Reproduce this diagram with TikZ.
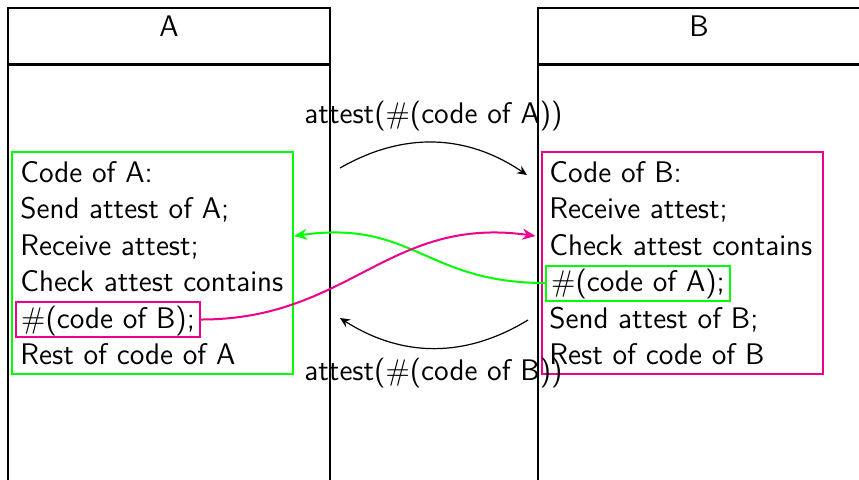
\documentclass[tikz,border=0pt]{standalone}
\usepackage{fontspec}
\usetikzlibrary{arrows.meta}
\definecolor{codegreen}{RGB}{0,255,0}
\definecolor{codepink}{RGB}{236,0,140}
\newcommand{\codefont}{\sffamily\fontsize{14.9}{18.3}\selectfont}
\begin{document}
\begin{tikzpicture}[x=0.5pt,y=-0.5pt,
  colbox/.style={draw=black, line width=1pt, inner sep=0pt, minimum width=161pt},
  lbl/.style={font=\codefont, inner sep=0pt},
  txt/.style={font=\codefont, inner sep=0pt, anchor=base west},
  hashbox/.style={txt, line width=1pt, inner xsep=2.6pt, inner ysep=0pt,
                  text height=13pt, text depth=4.5pt},
  codebox/.style={line width=1pt, inner sep=0pt, minimum width=140.5pt, minimum height=111pt},
  msg/.style={line width=0.6pt, -{Stealth[length=5pt,width=4.5pt,inset=1.8pt]}},
  link/.style={line width=1pt, -{Stealth[length=6.5pt,width=5.5pt]}}]
\useasboundingbox (0,0) rectangle (859,479);
\clip (0,0) rectangle (859,479);

% the two columns with their headers
\node[colbox, minimum height=28pt] (hA) at (169,36) {};
\node[colbox, minimum height=218pt] (bA) at (169,282) {};
\node[colbox, minimum height=28pt] (hB) at (699,36) {};
\node[colbox, minimum height=218pt] (bB) at (699,282) {};
\draw[line width=1.2pt] (hA.south west) -- (hA.south east);
\draw[line width=1.2pt] (hB.south west) -- (hB.south east);
\node[lbl, anchor=base] (tA) at (169,36) {A};
\node[lbl, anchor=base] (tB) at (699,36) {B};

% code of A
\node[codebox, draw=codegreen] (boxA) at (152.5,263) {};
\node[txt] (a1) at (20,182) {Code of A:};
\node[txt] (a2) at (20,218.5) {Send attest of A;};
\node[txt] (a3) at (20,255) {Receive attest;};
\node[txt] (a4) at (20,291.5) {Check attest contains};
\node[hashbox, draw=codepink] (hashB) at (15,328) {$\#$(code of B);};
\node[txt] (a6) at (20,364) {Rest of code of A};

% code of B
\node[codebox, draw=codepink] (boxB) at (682,263) {};
\node[txt] (b1) at (549,182) {Code of B:};
\node[txt] (b2) at (549,218.5) {Receive attest;};
\node[txt] (b3) at (549,255) {Check attest contains};
\node[hashbox, draw=codegreen] (hashA) at (545,291.5) {$\#$(code of A);};
\node[txt] (b5) at (549,328) {Send attest of B;};
\node[txt] (b6) at (549,364) {Rest of code of B};

% messages exchanged between the columns
\coordinate (m1s) at (340,168);
\coordinate (m1e) at (527,175);
\coordinate (m2s) at (528,320);
\coordinate (m2e) at (340,318);
\draw[msg] (m1s) to[bend left=32] (m1e);
\draw[msg] (m2s) to[bend left=32] (m2e);
\node[lbl, anchor=base] (l1) at (433.5,123) {attest($\#$(code of A))};
\node[lbl, anchor=base] (l2) at (433.5,380) {attest($\#$(code of B))};

% hash checks
\draw[link, codegreen] (hashA.west) to[out=180, in=8, looseness=1.2] ([yshift=13.5pt]boxA.east);
\draw[link, codepink] (hashB.east) to[out=0, in=172, looseness=1.1] ([xshift=-2.5pt, yshift=13.5pt]boxB.west);
\end{tikzpicture}
\end{document}
